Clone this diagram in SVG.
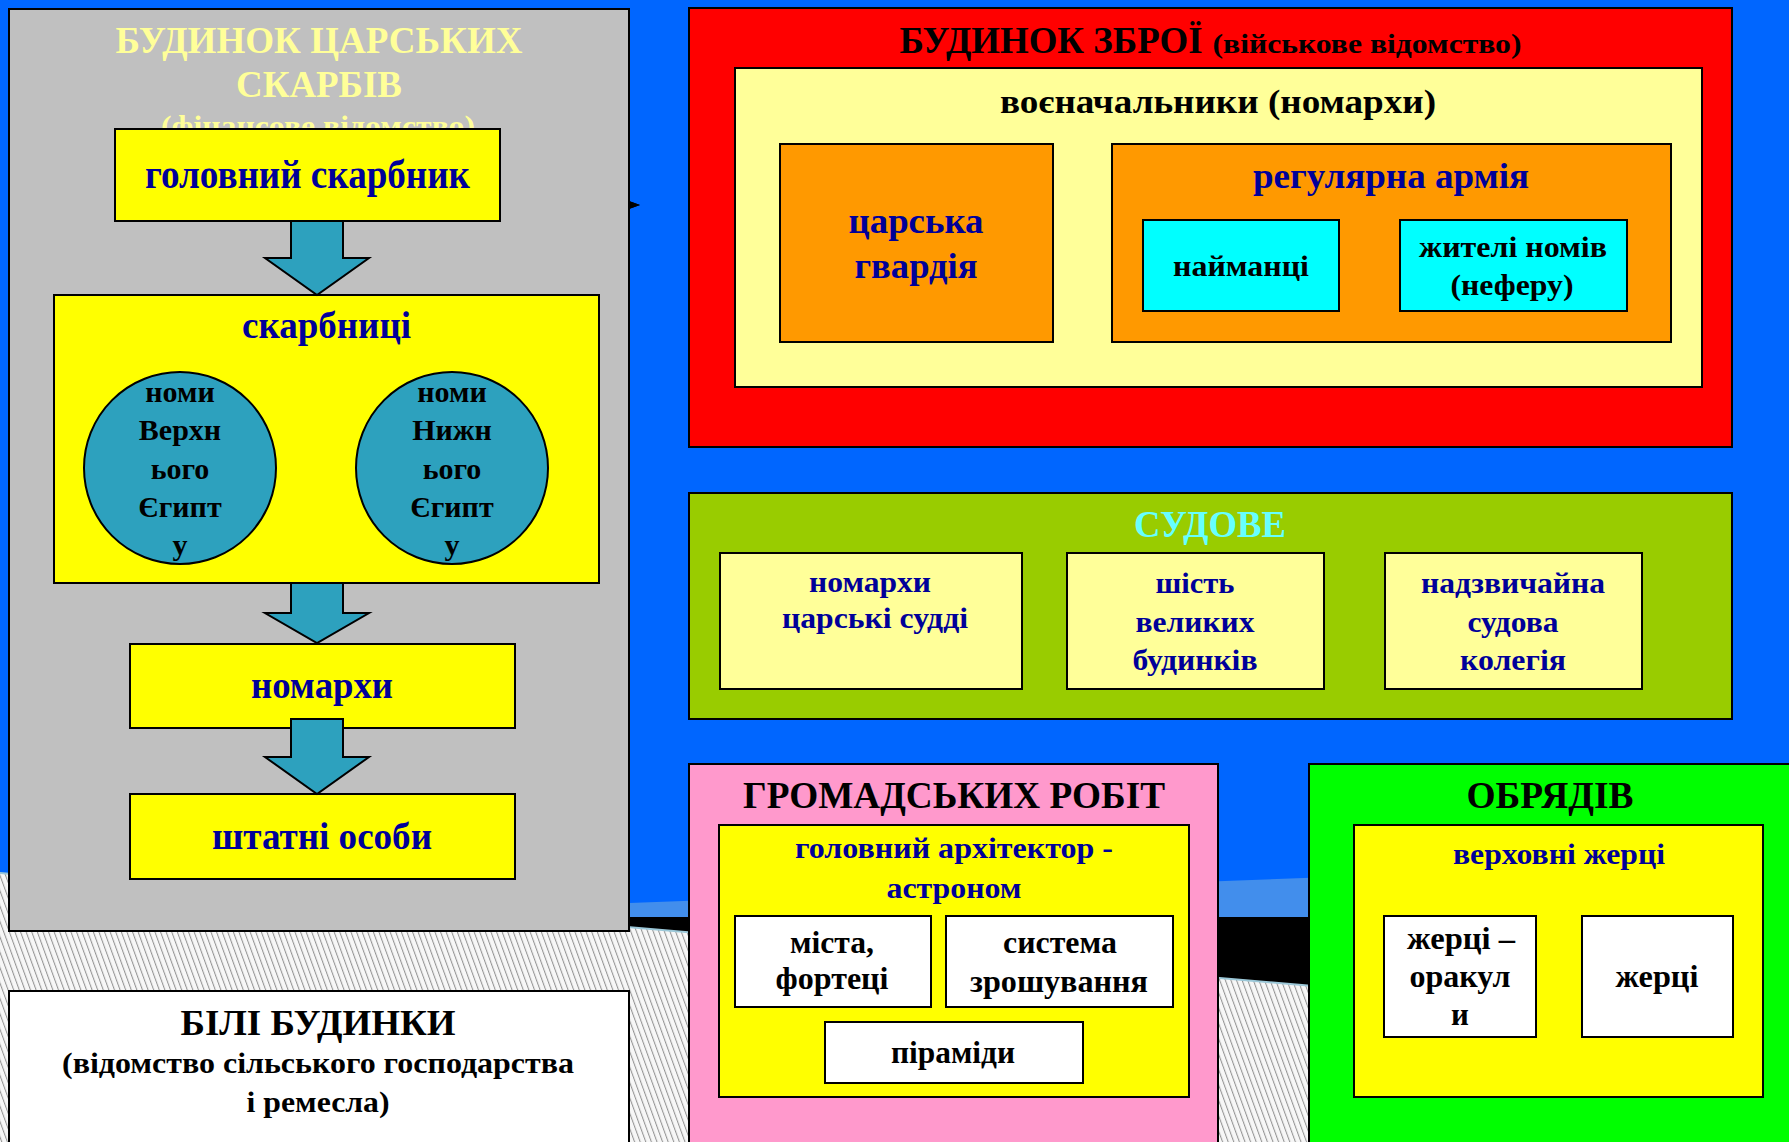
<svg xmlns="http://www.w3.org/2000/svg" width="1789" height="1142" viewBox="0 0 1789 1142">
<defs>
<pattern id="hatch" width="5.6" height="10" patternUnits="userSpaceOnUse" patternTransform="skewX(20)">
<rect width="5.6" height="10" fill="#F7F7F7"/>
<line x1="0.6" y1="0" x2="0.6" y2="10" stroke="#8A8A8A" stroke-width="1"/>
</pattern>
<marker id="ah" markerWidth="11" markerHeight="8" refX="0" refY="4" orient="auto" markerUnits="userSpaceOnUse">
<path d="M0,0 L11,4 L0,8 Z" fill="#000"/>
</marker>
</defs>
<style>
.box{stroke:#000;stroke-width:2}
.t{font-family:"Liberation Serif","Times New Roman",serif;font-weight:bold;text-anchor:middle}
.navy{fill:#000099}
.blk{fill:#000}
.arrow{fill:#2DA1BE;stroke:#000;stroke-width:2;stroke-linejoin:miter}
</style>
<!-- background -->
<rect x="0" y="0" width="1789" height="1142" fill="#0066FF"/>
<polygon points="250,917 1789,860 1789,917" fill="#428EEC"/>
<polygon points="510,917 1789,917 1789,1027" fill="#000"/>
<polygon points="0,873 1789,1027 1789,1142 0,1142" fill="url(#hatch)"/>
<line x1="0" y1="873" x2="1789" y2="1027" stroke="#9CC8D8" stroke-width="2"/>

<g id="treasury">
<rect class="box" x="9" y="9" width="620" height="922" fill="#C0C0C0"/>
<text class="t" x="319" y="53" font-size="38" fill="#FFFF99" textLength="407" lengthAdjust="spacingAndGlyphs">БУДИНОК ЦАРСЬКИХ</text>
<text class="t" x="319" y="97" font-size="38" fill="#FFFF99" textLength="166" lengthAdjust="spacingAndGlyphs">СКАРБІВ</text>
<text class="t" x="318" y="136" font-size="30" fill="#FFFF99" textLength="314" lengthAdjust="spacingAndGlyphs">(фінансове відомство)</text>
</g>
<g id="chief-treasurer">
<rect class="box" x="115" y="129" width="385" height="92" fill="#FFFF00"/>
<text class="t navy" x="307.5" y="188" font-size="40" textLength="325" lengthAdjust="spacingAndGlyphs">головний скарбник</text>
</g>
<g id="treasuries">
<rect class="box" x="54" y="295" width="545" height="288" fill="#FFFF00"/>
<text class="t navy" x="326.5" y="338" font-size="38" textLength="169" lengthAdjust="spacingAndGlyphs">скарбниці</text>
</g>
<g id="upper-egypt">
<circle class="box" cx="180" cy="468" r="96" fill="#2DA1BE"/>
<text class="t blk" font-size="30"><tspan x="180" y="402">номи</tspan><tspan x="180" y="440">Верхн</tspan><tspan x="180" y="479">ього</tspan><tspan x="180" y="517">Єгипт</tspan><tspan x="180" y="555">у</tspan></text>
</g>
<g id="lower-egypt">
<circle class="box" cx="452" cy="468" r="96" fill="#2DA1BE"/>
<text class="t blk" font-size="30"><tspan x="452" y="402">номи</tspan><tspan x="452" y="440">Нижн</tspan><tspan x="452" y="479">ього</tspan><tspan x="452" y="517">Єгипт</tspan><tspan x="452" y="555">у</tspan></text>
</g>
<g id="nomarchs-fin">
<rect class="box" x="130" y="644" width="385" height="84" fill="#FFFF00"/>
<text class="t navy" x="322" y="698" font-size="38" textLength="142" lengthAdjust="spacingAndGlyphs">номархи</text>
</g>
<g id="staff">
<rect class="box" x="130" y="794" width="385" height="85" fill="#FFFF00"/>
<text class="t navy" x="322" y="849" font-size="38" textLength="220" lengthAdjust="spacingAndGlyphs">штатні особи</text>
</g>

<g id="armory">
<rect class="box" x="689" y="8" width="1043" height="439" fill="#FF0000"/>
<text class="t blk" x="1051" y="53" font-size="38" textLength="303" lengthAdjust="spacingAndGlyphs">БУДИНОК ЗБРОЇ</text>
<text class="t blk" x="1367" y="53" font-size="28" textLength="309" lengthAdjust="spacingAndGlyphs">(військове відомство)</text>
</g>
<g id="commanders">
<rect class="box" x="735" y="68" width="967" height="319" fill="#FFFF99"/>
<text class="t blk" x="1218" y="113" font-size="34" textLength="436" lengthAdjust="spacingAndGlyphs">воєначальники (номархи)</text>
</g>
<g id="royal-guard">
<rect class="box" x="780" y="144" width="273" height="198" fill="#FF9900"/>
<text class="t navy" x="916" y="233" font-size="36" textLength="135" lengthAdjust="spacingAndGlyphs">царська</text>
<text class="t navy" x="916" y="278" font-size="36" textLength="123" lengthAdjust="spacingAndGlyphs">гвардія</text>
</g>
<g id="regular-army">
<rect class="box" x="1112" y="144" width="559" height="198" fill="#FF9900"/>
<text class="t navy" x="1391" y="188" font-size="35" textLength="276" lengthAdjust="spacingAndGlyphs">регулярна армія</text>
</g>
<g id="mercenaries">
<rect class="box" x="1143" y="220" width="196" height="91" fill="#00FFFF"/>
<text class="t blk" x="1241" y="276" font-size="30" textLength="136" lengthAdjust="spacingAndGlyphs">найманці</text>
</g>
<g id="nome-residents">
<rect class="box" x="1400" y="220" width="227" height="91" fill="#00FFFF"/>
<text class="t blk" x="1513" y="257" font-size="30" textLength="188" lengthAdjust="spacingAndGlyphs">жителі номів</text>
<text class="t blk" x="1512" y="295" font-size="30" textLength="123" lengthAdjust="spacingAndGlyphs">(неферу)</text>
</g>

<g id="judicial">
<rect class="box" x="689" y="493" width="1043" height="226" fill="#99CC00"/>
<text class="t" x="1210" y="537" font-size="38" fill="#66FFFF" textLength="152" lengthAdjust="spacingAndGlyphs">СУДОВЕ</text>
</g>
<g id="royal-judges">
<rect class="box" x="720" y="553" width="302" height="136" fill="#FFFF99"/>
<text class="t navy" x="870" y="592" font-size="30" textLength="122" lengthAdjust="spacingAndGlyphs">номархи</text>
<text class="t navy" x="875" y="628" font-size="30" textLength="186" lengthAdjust="spacingAndGlyphs">царські судді</text>
</g>
<g id="six-houses">
<rect class="box" x="1067" y="553" width="257" height="136" fill="#FFFF99"/>
<text class="t navy" x="1195" y="593" font-size="30" textLength="79" lengthAdjust="spacingAndGlyphs">шість</text>
<text class="t navy" x="1195" y="632" font-size="30" textLength="119" lengthAdjust="spacingAndGlyphs">великих</text>
<text class="t navy" x="1195" y="670" font-size="30" textLength="125" lengthAdjust="spacingAndGlyphs">будинків</text>
</g>
<g id="extraordinary-court">
<rect class="box" x="1385" y="553" width="257" height="136" fill="#FFFF99"/>
<text class="t navy" x="1513" y="593" font-size="30" textLength="184" lengthAdjust="spacingAndGlyphs">надзвичайна</text>
<text class="t navy" x="1513" y="632" font-size="30" textLength="91" lengthAdjust="spacingAndGlyphs">судова</text>
<text class="t navy" x="1513" y="670" font-size="30" textLength="106" lengthAdjust="spacingAndGlyphs">колегія</text>
</g>

<g id="public-works">
<rect class="box" x="689" y="764" width="529" height="385" fill="#FF99CC"/>
<text class="t blk" x="954" y="808" font-size="37" textLength="422" lengthAdjust="spacingAndGlyphs">ГРОМАДСЬКИХ РОБІТ</text>
</g>
<g id="chief-architect">
<rect class="box" x="719" y="825" width="470" height="272" fill="#FFFF00"/>
<text class="t navy" x="954" y="858" font-size="29" textLength="318" lengthAdjust="spacingAndGlyphs">головний архітектор -</text>
<text class="t navy" x="954" y="898" font-size="29" textLength="135" lengthAdjust="spacingAndGlyphs">астроном</text>
</g>
<g id="cities">
<rect class="box" x="735" y="916" width="196" height="91" fill="#FFFFFF"/>
<text class="t blk" x="832" y="953" font-size="31" textLength="84" lengthAdjust="spacingAndGlyphs">міста,</text>
<text class="t blk" x="832" y="989" font-size="31" textLength="113" lengthAdjust="spacingAndGlyphs">фортеці</text>
</g>
<g id="irrigation">
<rect class="box" x="946" y="916" width="227" height="91" fill="#FFFFFF"/>
<text class="t blk" x="1060" y="953" font-size="31" textLength="114" lengthAdjust="spacingAndGlyphs">система</text>
<text class="t blk" x="1059" y="992" font-size="31" textLength="178" lengthAdjust="spacingAndGlyphs">зрошування</text>
</g>
<g id="pyramids">
<rect class="box" x="825" y="1022" width="258" height="61" fill="#FFFFFF"/>
<text class="t blk" x="953" y="1063" font-size="31" textLength="124" lengthAdjust="spacingAndGlyphs">піраміди</text>
</g>

<g id="rites">
<rect class="box" x="1309" y="764" width="490" height="385" fill="#00FF00"/>
<text class="t blk" x="1550" y="808" font-size="37" textLength="167" lengthAdjust="spacingAndGlyphs">ОБРЯДІВ</text>
</g>
<g id="high-priests">
<rect class="box" x="1354" y="825" width="409" height="272" fill="#FFFF00"/>
<text class="t navy" x="1559" y="864" font-size="29" textLength="212" lengthAdjust="spacingAndGlyphs">верховні жерці</text>
</g>
<g id="oracle-priests">
<rect class="box" x="1384" y="916" width="152" height="121" fill="#FFFFFF"/>
<text class="t blk" x="1461" y="949" font-size="31" textLength="108" lengthAdjust="spacingAndGlyphs">жерці –</text>
<text class="t blk" x="1460" y="987" font-size="31" textLength="101" lengthAdjust="spacingAndGlyphs">оракул</text>
<text class="t blk" x="1460" y="1025" font-size="31">и</text>
</g>
<g id="priests">
<rect class="box" x="1582" y="916" width="151" height="121" fill="#FFFFFF"/>
<text class="t blk" x="1657" y="987" font-size="31" textLength="83" lengthAdjust="spacingAndGlyphs">жерці</text>
</g>

<g id="white-houses">
<rect class="box" x="9" y="991" width="620" height="160" fill="#FFFFFF"/>
<text class="t blk" x="318" y="1035" font-size="36" textLength="275" lengthAdjust="spacingAndGlyphs">БІЛІ БУДИНКИ</text>
<text class="t blk" x="318" y="1073" font-size="30" textLength="512" lengthAdjust="spacingAndGlyphs">(відомство сільського господарства</text>
<text class="t blk" x="318" y="1112" font-size="30" textLength="143" lengthAdjust="spacingAndGlyphs">і ремесла)</text>
</g>

<g id="connectors">
<polygon class="arrow" points="291,221 343,221 343,258 369,258 317,295 265,258 291,258"/>
<polygon class="arrow" points="291,583 343,583 343,613 369,613 317,643 265,613 291,613"/>
<polygon class="arrow" points="291,719 343,719 343,757 369,757 317,794 265,757 291,757"/>
<line x1="620" y1="205" x2="629" y2="205" stroke="none" marker-end="url(#ah)"/>
<path d="M629,201 L640,205 L629,209 Z" fill="#000"/>
</g>
</svg>
